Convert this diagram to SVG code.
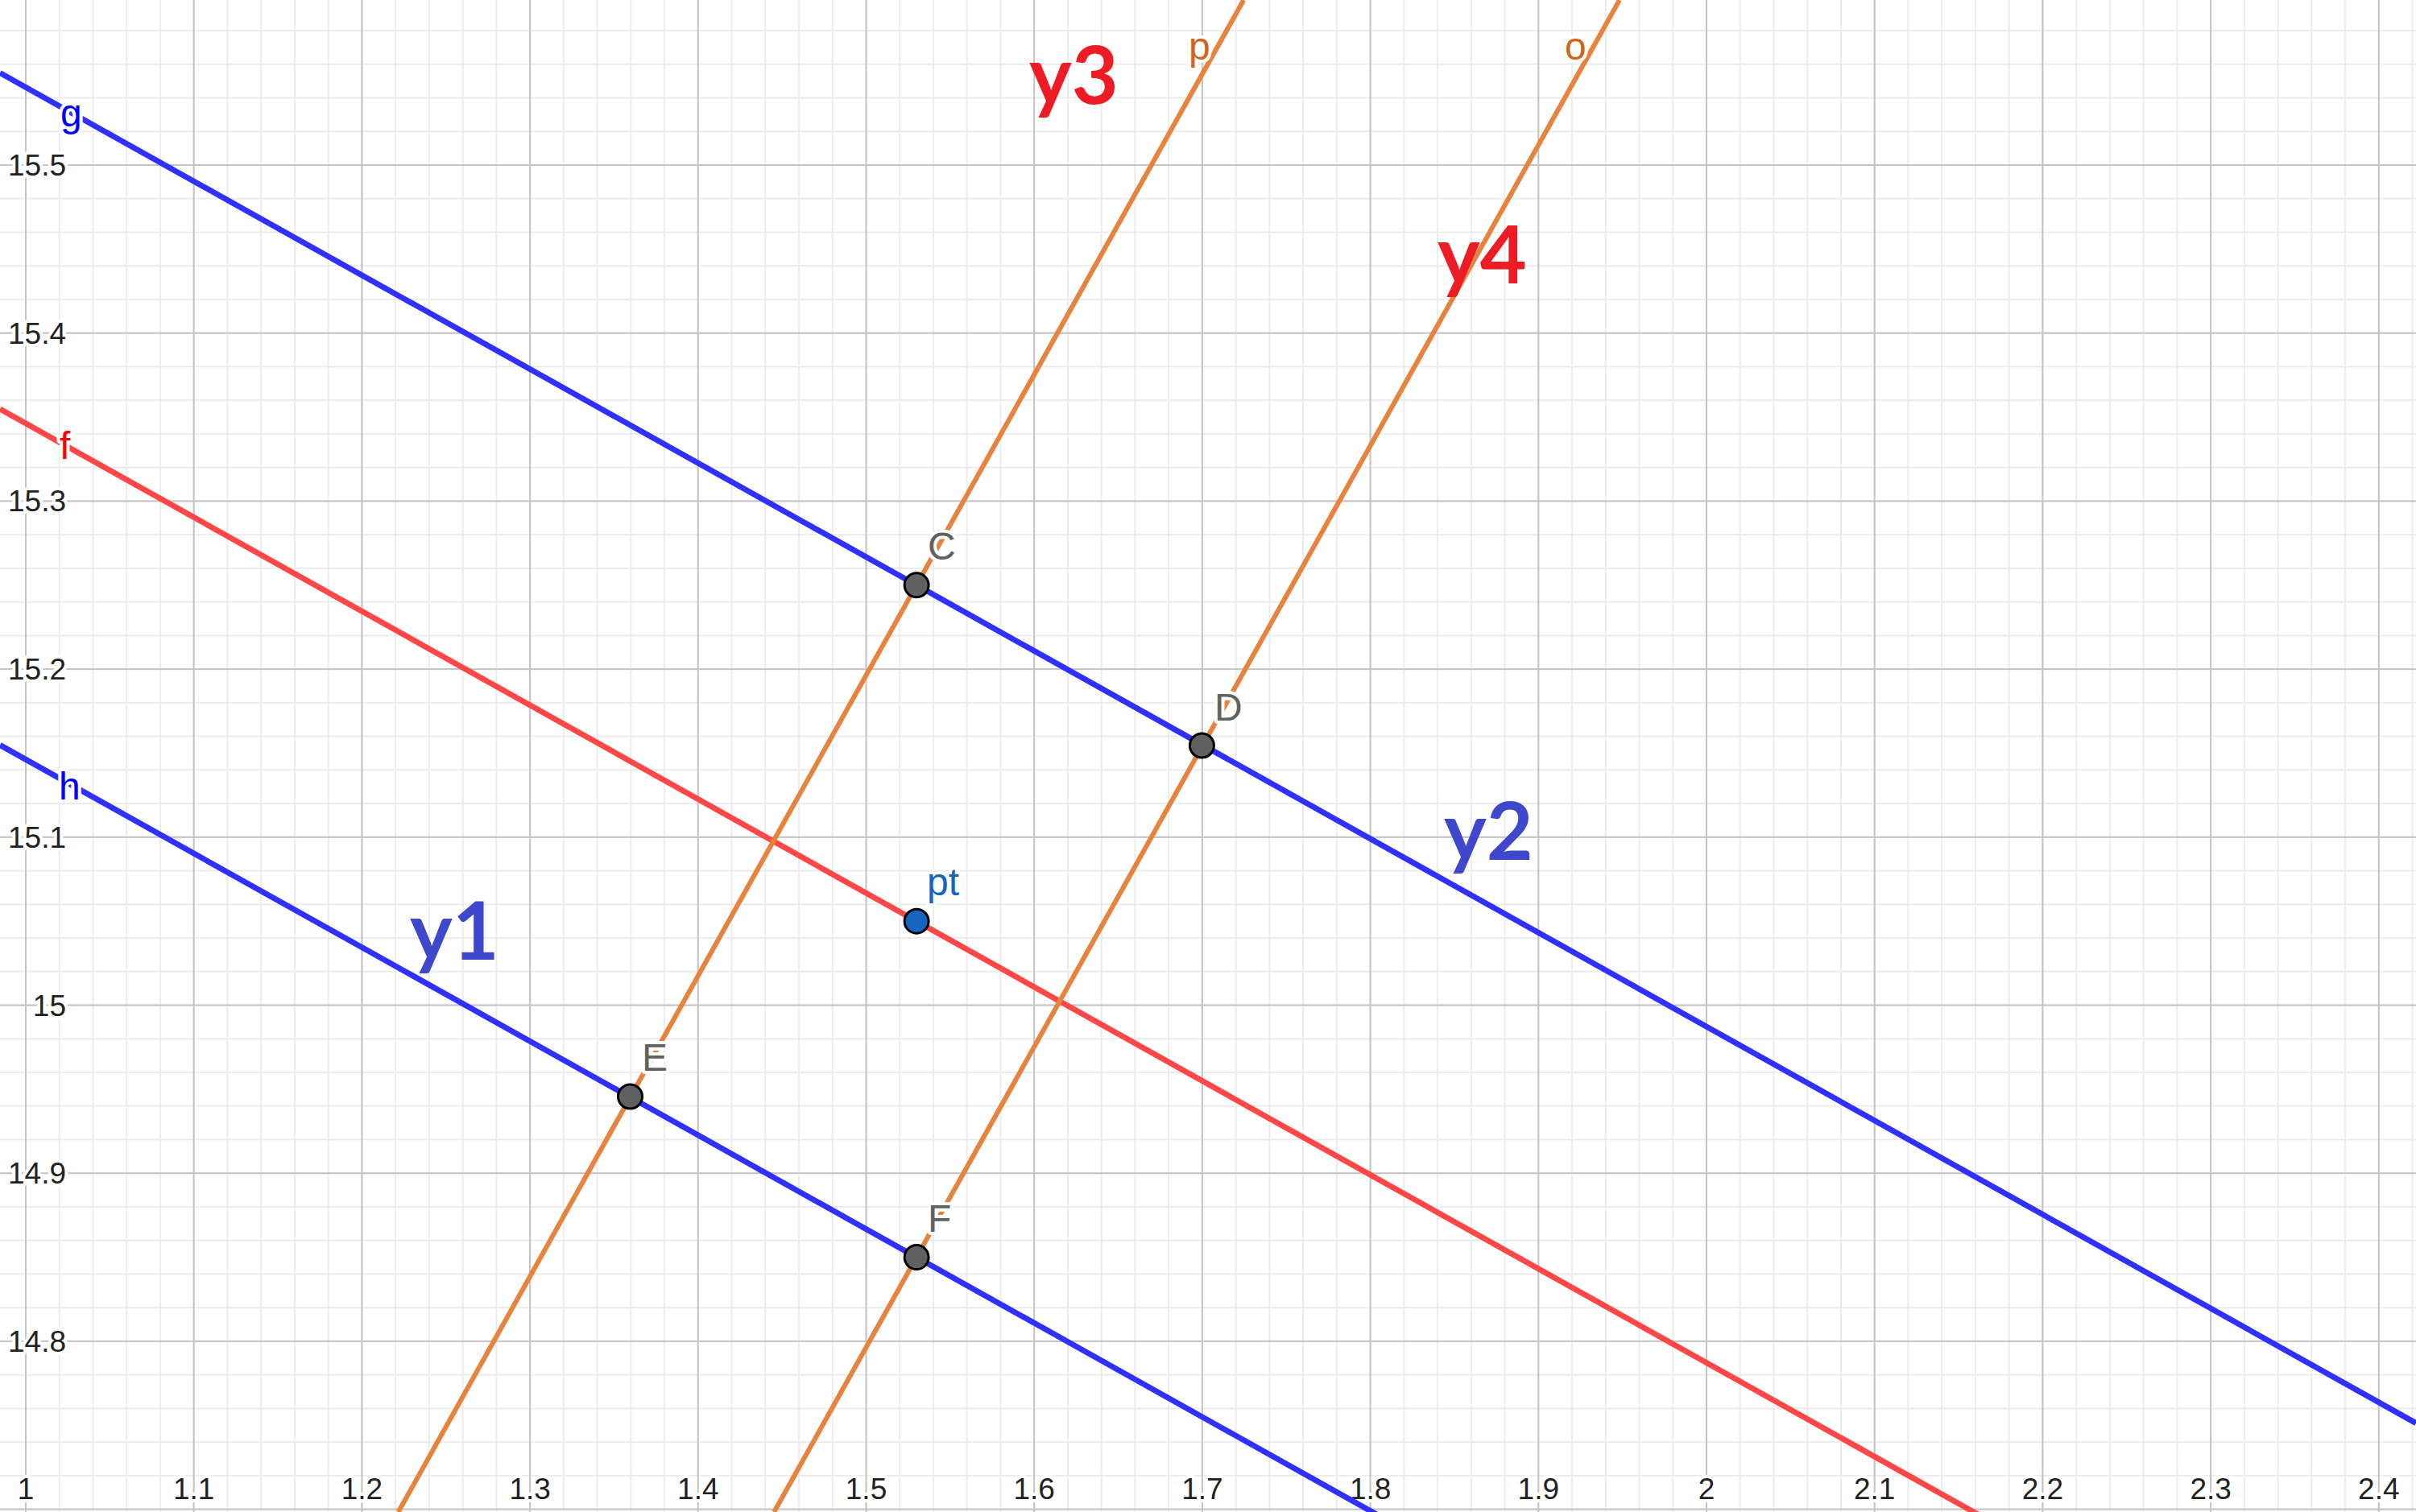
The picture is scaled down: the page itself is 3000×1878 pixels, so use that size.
<svg xmlns="http://www.w3.org/2000/svg" width="3000" height="1878" viewBox="0 0 3000 1878">
<style>
.ax{font-family:"Liberation Sans",Arial,sans-serif;font-size:37px;fill:#222;stroke:#fff;stroke-width:8px;paint-order:stroke;stroke-linejoin:round}
.axx{text-anchor:middle}
.axy{text-anchor:end}
.lb{font-family:"Liberation Sans",Arial,sans-serif;font-size:48px;stroke:#fff;stroke-width:8px;paint-order:stroke;stroke-linejoin:round}
.big{font-family:Lato,"Open Sans",sans-serif;font-weight:bold;font-size:100px}
.blue{stroke:#3030FF;stroke-width:7;fill:none}
.red{stroke:#FF4747;stroke-width:7;fill:none}
.orange{stroke:#E6843F;stroke-width:6;fill:none}
.pnt{fill:#616161;stroke:#000;stroke-width:3}
</style>
<defs>
<pattern id="minor" patternUnits="userSpaceOnUse" x="31" y="204" width="41.74" height="41.74">
<rect x="0" y="0" width="2" height="41.74" fill="#ECECEC"/>
<rect x="0" y="0" width="41.74" height="2" fill="#ECECEC"/>
</pattern>
<pattern id="major" patternUnits="userSpaceOnUse" x="31" y="204" width="208.7" height="208.7">
<rect x="0" y="0" width="2" height="208.7" fill="#C4C4C4"/>
<rect x="0" y="0" width="208.7" height="2" fill="#C4C4C4"/>
</pattern>
</defs>
<rect width="3000" height="1878" fill="#fff"/>
<rect width="3000" height="1878" fill="url(#minor)"/>
<rect width="3000" height="1878" fill="url(#major)"/>
<g id="axis-labels">
<text class="ax axx" x="32" y="1862">1</text>
<text class="ax axx" x="240.7" y="1862">1.1</text>
<text class="ax axx" x="449.4" y="1862">1.2</text>
<text class="ax axx" x="658.1" y="1862">1.3</text>
<text class="ax axx" x="866.8" y="1862">1.4</text>
<text class="ax axx" x="1075.5" y="1862">1.5</text>
<text class="ax axx" x="1284.2" y="1862">1.6</text>
<text class="ax axx" x="1492.9" y="1862">1.7</text>
<text class="ax axx" x="1701.6" y="1862">1.8</text>
<text class="ax axx" x="1910.3" y="1862">1.9</text>
<text class="ax axx" x="2119" y="1862">2</text>
<text class="ax axx" x="2327.7" y="1862">2.1</text>
<text class="ax axx" x="2536.4" y="1862">2.2</text>
<text class="ax axx" x="2745.1" y="1862">2.3</text>
<text class="ax axx" x="2953.8" y="1862">2.4</text>
<text class="ax axy" x="82" y="218">15.5</text>
<text class="ax axy" x="82" y="426.7">15.4</text>
<text class="ax axy" x="82" y="635.4">15.3</text>
<text class="ax axy" x="82" y="844.1">15.2</text>
<text class="ax axy" x="82" y="1052.8">15.1</text>
<text class="ax axy" x="82" y="1261.5">15</text>
<text class="ax axy" x="82" y="1470.2">14.9</text>
<text class="ax axy" x="82" y="1678.9">14.8</text>
</g>
<g id="connectors">
<line id="line-g" class="blue" x1="0" y1="90.6" x2="3000" y2="1767.6"/>
<line id="line-h" class="blue" x1="0" y1="925.4" x2="3000" y2="2602.4"/>
<line id="line-f" class="red" x1="0" y1="508" x2="3000" y2="2185"/>
<line id="line-p" class="orange" x1="1544.3" y1="0" x2="494.6" y2="1878"/>
<line id="line-o" class="orange" x1="2011" y1="0" x2="961.2" y2="1878"/>
</g>
<g id="line-labels">
<text class="lb" x="75" y="157" fill="#0000FF">g</text>
<text class="lb" x="74" y="570" fill="#FF0000">f</text>
<text class="lb" x="73" y="993" fill="#0000FF">h</text>
<text class="lb" x="1476" y="74" fill="#D2651C">p</text>
<text class="lb" x="1943" y="74" fill="#D2651C">o</text>
</g>
<g id="node-C"><circle class="pnt" cx="1138.1" cy="726.8" r="15"/><text class="lb" x="1152" y="695" fill="#616161">C</text></g>
<g id="node-D"><circle class="pnt" cx="1492.4" cy="926" r="15"/><text class="lb" x="1508" y="895" fill="#616161">D</text></g>
<g id="node-E"><circle class="pnt" cx="782.5" cy="1362" r="15"/><text class="lb" x="797" y="1330" fill="#616161">E</text></g>
<g id="node-F"><circle class="pnt" cx="1138.1" cy="1561.6" r="15"/><text class="lb" x="1152" y="1530" fill="#616161">F</text></g>
<g id="node-pt"><circle cx="1138.1" cy="1144.2" r="15" fill="#1565C0" stroke="#000" stroke-width="3"/><text class="lb" x="1151" y="1112" fill="#1565C0">pt</text></g>
<g id="big-labels">
<text class="big" x="509" y="1192" fill="#3F48CC">y1</text>
<text class="big" x="1793" y="1068" fill="#3F48CC">y2</text>
<text class="big" x="1278" y="129" fill="#ED1C24">y3</text>
<text class="big" x="1785" y="352" fill="#ED1C24">y4</text>
</g>
</svg>
